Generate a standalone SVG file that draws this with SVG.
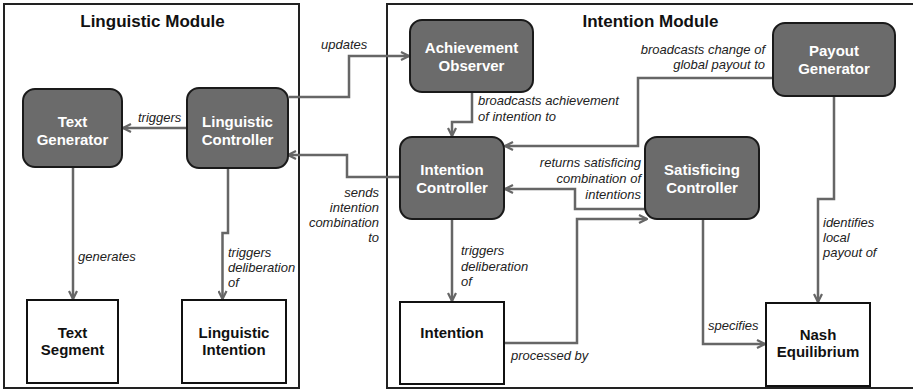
<svg xmlns="http://www.w3.org/2000/svg" width="913" height="390" viewBox="0 0 913 390">
  <defs>
    <marker id="arrow" viewBox="0 0 10 10" refX="9" refY="5" markerWidth="10" markerHeight="10" markerUnits="userSpaceOnUse" orient="auto">
      <path d="M1,1 L9,5 L1,9" fill="none" stroke="#666" stroke-width="2.2" stroke-linejoin="miter"/>
    </marker>
  </defs>
  <style>
    .module { fill: #fff; stroke: #222; stroke-width: 2; }
    .title { font-family: "Liberation Sans", Arial, sans-serif; font-weight: bold; font-size: 17px; fill: #111; text-anchor: middle; }
    .proc rect { fill: #6b6b6b; stroke: #1a1a1a; stroke-width: 2; }
    .proc text { font-family: "Liberation Sans", Arial, sans-serif; font-weight: bold; font-size: 15px; fill: #fff; text-anchor: middle; }
    .data rect { fill: #fff; stroke: #111; stroke-width: 2; }
    .data text { font-family: "Liberation Sans", Arial, sans-serif; font-weight: bold; font-size: 15px; fill: #111; text-anchor: middle; }
    .edge { fill: none; stroke: #666; stroke-width: 2.5; marker-end: url(#arrow); }
    .lbl { font-family: "Liberation Sans", Arial, sans-serif; font-style: italic; font-size: 13px; fill: #222; }
    .end { text-anchor: end; }
  </style>

  <!-- module frames -->
  <g id="linguistic-module">
    <rect class="module" x="4" y="4" width="295" height="384"/>
    <text class="title" x="152.5" y="27">Linguistic Module</text>
  </g>
  <g id="intention-module">
    <rect class="module" x="387" y="4" width="540" height="384"/>
    <text class="title" x="650.5" y="27">Intention Module</text>
  </g>

  <!-- connectors -->
  <g id="connectors">
    <path class="edge" d="M187,128 H123"/>
    <path class="edge" d="M289,97 H349 V56 H409"/>
    <path class="edge" d="M400,177 H347 V155 H288"/>
    <path class="edge" d="M228,169 V233 H222.5 V299"/>
    <path class="edge" d="M73,167 V299"/>
    <path class="edge" d="M472,92 V122 H452 V136"/>
    <path class="edge" d="M773,78 H638 V146 H505"/>
    <path class="edge" d="M645,209 H575 V189 H505"/>
    <path class="edge" d="M452,219 V301"/>
    <path class="edge" d="M504,343 H577 V219 H647"/>
    <path class="edge" d="M703,219 V344 H765"/>
    <path class="edge" d="M834,96 V199 H818 V302"/>

    <text class="lbl" x="138" y="122">triggers</text>
    <text class="lbl" x="321" y="49">updates</text>
    <text class="lbl" x="78" y="261">generates</text>
    <text class="lbl" x="228"><tspan x="228" y="257">triggers</tspan><tspan x="228" y="272">deliberation</tspan><tspan x="228" y="287">of</tspan></text>
    <text class="lbl end"><tspan x="379" y="197">sends</tspan><tspan x="379" y="212">intention</tspan><tspan x="379" y="227">combination</tspan><tspan x="379" y="242">to</tspan></text>
    <text class="lbl"><tspan x="478" y="105">broadcasts achievement</tspan><tspan x="478" y="121">of intention to</tspan></text>
    <text class="lbl end"><tspan x="765" y="54">broadcasts change of</tspan><tspan x="765" y="69">global payout to</tspan></text>
    <text class="lbl end"><tspan x="641" y="167">returns satisficing</tspan><tspan x="641" y="183">combination of</tspan><tspan x="641" y="199">intentions</tspan></text>
    <text class="lbl"><tspan x="461" y="255">triggers</tspan><tspan x="461" y="271">deliberation</tspan><tspan x="461" y="286">of</tspan></text>
    <text class="lbl" x="511" y="360">processed by</text>
    <text class="lbl" x="708" y="330">specifies</text>
    <text class="lbl"><tspan x="823" y="227">identifies</tspan><tspan x="823" y="242">local</tspan><tspan x="823" y="257">payout of</tspan></text>
  </g>

  <!-- process nodes -->
  <g id="text-generator" class="proc">
    <rect x="23" y="89" width="99" height="78" rx="12"/>
    <text x="72.5" y="127">Text</text>
    <text x="72.5" y="145">Generator</text>
  </g>
  <g id="linguistic-controller" class="proc">
    <rect x="187" y="88" width="101" height="80" rx="12"/>
    <text x="237.5" y="127">Linguistic</text>
    <text x="237.5" y="145">Controller</text>
  </g>
  <g id="achievement-observer" class="proc">
    <rect x="410" y="20" width="123" height="72" rx="12"/>
    <text x="471.5" y="53">Achievement</text>
    <text x="471.5" y="71">Observer</text>
  </g>
  <g id="intention-controller" class="proc">
    <rect x="400" y="137" width="104" height="82" rx="12"/>
    <text x="452" y="175">Intention</text>
    <text x="452" y="193">Controller</text>
  </g>
  <g id="satisficing-controller" class="proc">
    <rect x="645" y="137" width="114" height="82" rx="12"/>
    <text x="702" y="175">Satisficing</text>
    <text x="702" y="193">Controller</text>
  </g>
  <g id="payout-generator" class="proc">
    <rect x="773" y="23" width="122" height="73" rx="12"/>
    <text x="834" y="56">Payout</text>
    <text x="834" y="74">Generator</text>
  </g>

  <!-- data nodes -->
  <g id="text-segment" class="data">
    <rect x="27" y="300" width="91" height="83"/>
    <text x="72.5" y="338">Text</text>
    <text x="72.5" y="355">Segment</text>
  </g>
  <g id="linguistic-intention" class="data">
    <rect x="182" y="300" width="104" height="83"/>
    <text x="234" y="338">Linguistic</text>
    <text x="234" y="355">Intention</text>
  </g>
  <g id="intention" class="data">
    <rect x="400" y="302" width="104" height="82"/>
    <text x="452" y="338">Intention</text>
  </g>
  <g id="nash-equilibrium" class="data">
    <rect x="766" y="303" width="104" height="83"/>
    <text x="818" y="340">Nash</text>
    <text x="818" y="357">Equilibrium</text>
  </g>
</svg>
